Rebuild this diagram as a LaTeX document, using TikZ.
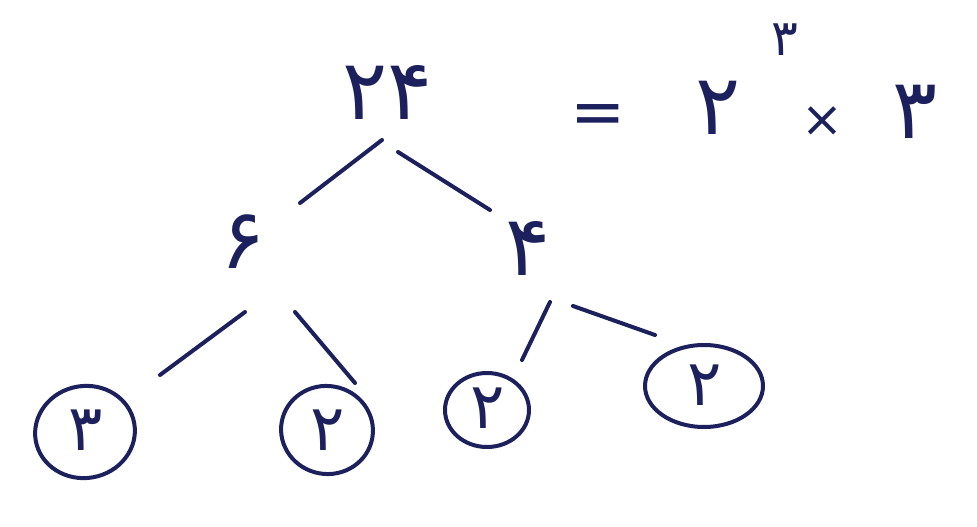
\documentclass[tikz,border=0pt]{standalone}
\usepackage{fontspec}
\newfontfamily\fa{DejaVu Sans}
\definecolor{ink}{RGB}{28,32,92}
\tikzset{
  dig/.style={text=ink,font=\fa\fontsize{84}{84}\selectfont,inner sep=0pt},
  ldig/.style={text=ink,font=\fa\fontsize{64}{64}\selectfont,inner sep=0pt},
  sdig/.style={text=ink,font=\fa\fontsize{50}{50}\selectfont,inner sep=0pt},
  edge/.style={draw=ink,line width=4pt,line cap=round},
  ring/.style={draw=ink,line width=4pt,ellipse,inner sep=0pt}
}
\usetikzlibrary{shapes.geometric}
\begin{document}
\begin{tikzpicture}[x=1pt,y=-1pt]
\useasboundingbox[fill=white] (0,0) rectangle (977,527);
% top
\node[dig] (n24) at (388,92) {۲۴};
\node[sdig,font=\fa\fontsize{66}{66}\selectfont] (eq) at (598,120) {=};
\node[dig] (b2) at (718,108) {۲};
\node[sdig] (e3) at (785,40) {۳};
\node[sdig] (x) at (822,122) {×};
\node[dig] (t3) at (915,112) {۳};
% middle
\node[dig] (n6) at (243,242) {۶};
\node[dig] (n4) at (528,248) {۴};
% leaves
\node[ldig] (l3) at (86,430) {۳};
\node[ldig] (l2a) at (328,430) {۲};
\node[ldig] (l2b) at (488,408) {۲};
\node[ldig] (l2c) at (705,385) {۲};
\node[ring,minimum width=100pt,minimum height=92pt,rotate=10] (r1) at (85,432) {};
\node[ring,minimum width=92pt,minimum height=88pt,rotate=-10] (r2) at (327,430) {};
\node[ring,minimum width=84pt,minimum height=74pt] (r3) at (487,410) {};
\node[ring,minimum width=118pt,minimum height=82pt] (r4) at (704,386) {};
% connectors
\coordinate (a1) at (382,140); \coordinate (a2) at (300,203);
\coordinate (b1) at (398,152); \coordinate (b2e) at (490,210);
\coordinate (c1) at (245,312); \coordinate (c2) at (160,375);
\coordinate (d1) at (295,312); \coordinate (d2) at (355,383);
\coordinate (e1) at (550,302); \coordinate (e2) at (522,360);
\coordinate (f1) at (573,306); \coordinate (f2) at (655,335);
\draw[edge] (a1) -- (a2);
\draw[edge] (b1) -- (b2e);
\draw[edge] (c1) -- (c2);
\draw[edge] (d1) -- (d2);
\draw[edge] (e1) -- (e2);
\draw[edge] (f1) -- (f2);
\end{tikzpicture}
\end{document}
